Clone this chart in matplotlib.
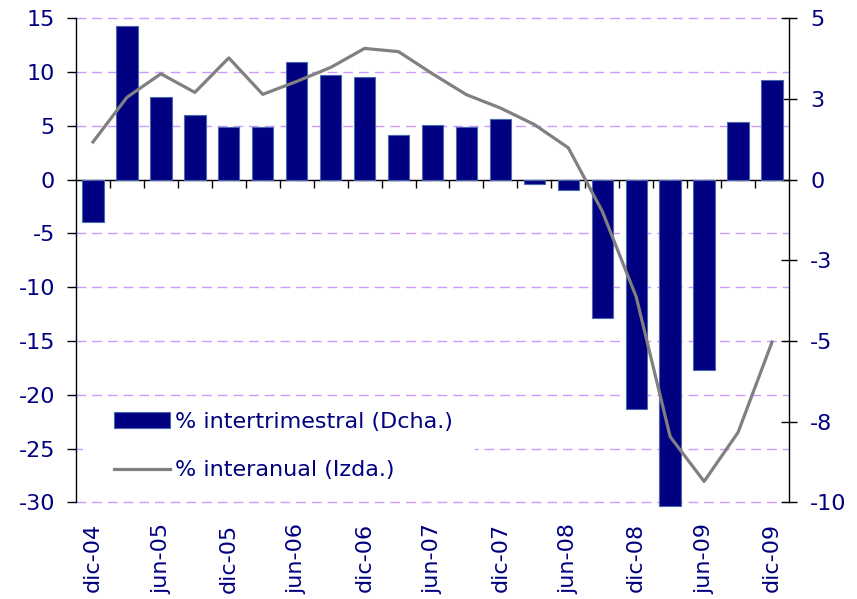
import math
import matplotlib
matplotlib.use('Agg')
import matplotlib.pyplot as plt
import matplotlib.transforms as mtransforms
from matplotlib.ticker import FuncFormatter
from matplotlib.patches import Rectangle, Patch
from matplotlib.lines import Line2D

plt.rcParams['axes.unicode_minus'] = False

# ---------------- data ----------------
categories = ['dic-04', 'mar-05', 'jun-05', 'sep-05', 'dic-05', 'mar-06', 'jun-06',
              'sep-06', 'dic-06', 'mar-07', 'jun-07', 'sep-07', 'dic-07', 'mar-08',
              'jun-08', 'sep-08', 'dic-08', 'mar-09', 'jun-09', 'sep-09', 'dic-09']
# % intertrimestral (right axis, Dcha.)
intertrimestral = [-1.31, 4.77, 2.55, 1.99, 1.63, 1.63, 3.66, 3.23, 3.17, 1.38, 1.70,
                   1.63, 1.87, -0.14, -0.33, -4.28, -7.12, -10.12, -5.89, 1.80, 3.10]
# % interanual (left axis, Izda.)
interanual = [3.5, 7.65, 9.84, 8.11, 11.32, 7.93, 9.13, 10.43, 12.2, 11.9, 9.84,
              7.9, 6.66, 5.12, 2.96, -2.94, -10.9, -23.9, -28.06, -23.5, -15.1]
left_ticks = [-30, -25, -20, -15, -10, -5, 0, 5, 10, 15]
right_ticks = [-10, -7.5, -5, -2.5, 0, 2.5, 5]
label_bar = '% intertrimestral (Dcha.)'
label_line = '% interanual (Izda.)'

# ---------------- style ----------------
navy = '#000080'
bar_edge = '#4a68b0'
line_color = '#808080'
grid_color = '#cc99ff'
fs = 16

W, H = 857, 599
fig = plt.figure(figsize=(W / 100, H / 100), dpi=100)
x0, x1, ytop, ybot = 76, 789, 18.3, 502.3
ax = fig.add_axes([x0 / W, (H - ybot) / H, (x1 - x0) / W, (ybot - ytop) / H])
ax2 = ax.twinx()

n = len(categories)
xs = list(range(n))
ax.set_xlim(-0.5, n - 0.5)
ax.set_ylim(left_ticks[0], left_ticks[-1])
ax2.set_ylim(right_ticks[0], right_ticks[-1])

# grid on left axis
ax.set_yticks(left_ticks)
ax.yaxis.grid(True, color=grid_color, linestyle=(0, (7, 4.3)), linewidth=1.0)
ax.set_axisbelow(True)
for gl in ax.get_ygridlines():
    gl.set_clip_on(False)

# bars on right axis, line on left axis scale (drawn above bars)
ax2.bar(xs, intertrimestral, width=0.63, color=navy, edgecolor=bar_edge,
        linewidth=0.8, clip_on=False, zorder=2)
ax2.plot(xs, interanual, color=line_color, lw=2.3, transform=ax.transData,
         zorder=3, solid_joinstyle='round')
ax2.set_ylim(right_ticks[0], right_ticks[-1])

# spines
for s in ['top', 'right']:
    ax.spines[s].set_visible(False)
ax.spines['bottom'].set_position(('data', 0))
for s in ['top', 'bottom', 'left']:
    ax2.spines[s].set_visible(False)
ax.spines['left'].set_linewidth(1.0)
ax.spines['bottom'].set_linewidth(1.0)
ax2.spines['right'].set_linewidth(1.0)

# x ticks at category boundaries, pointing down from the zero line
ax.set_xticks([i + 0.5 for i in range(n - 1)])
ax.tick_params(axis='x', direction='out', length=5.8, width=1.0, labelbottom=False)

# left y ticks
ax.tick_params(axis='y', direction='out', length=6.5, width=1.0, pad=8.6,
               labelsize=fs, labelcolor=navy)

# right y ticks (Excel-style rounding of labels)
def excel_round(v, pos=None):
    r = int(math.floor(abs(v) + 0.5))
    return ('-' if v < 0 and r != 0 else '') + str(r)

ax2.set_yticks(right_ticks)
ax2.yaxis.set_major_formatter(FuncFormatter(excel_round))
ax2.tick_params(axis='y', direction='inout', length=11.5, width=1.0, pad=9.4,
                labelsize=fs, labelcolor=navy)

# category labels below the plot
trans = mtransforms.blended_transform_factory(ax.transData, ax.transAxes)
for i in range(0, n, 2):
    ax.text(xs[i], -21 / (ybot - ytop), categories[i], transform=trans, rotation=90,
            ha='center', va='top', fontsize=fs, color=navy)

# white background behind legend
ax2.add_patch(Rectangle(((83 - x0) / (x1 - x0), (ybot - 487) / (ybot - ytop)),
                        (475 - 83) / (x1 - x0), (487 - 405) / (ybot - ytop),
                        transform=ax2.transAxes, facecolor='white',
                        edgecolor='none', zorder=1))

handles = [Patch(facecolor=navy, edgecolor=bar_edge, linewidth=0.8),
           Line2D([0], [0], color=line_color, lw=2.3)]
leg = ax2.legend(handles, [label_bar, label_line], loc='center left',
                 bbox_to_anchor=(114 / W, (H - 446.2) / H),
                 bbox_transform=fig.transFigure, frameon=False, borderpad=0,
                 borderaxespad=0, handlelength=2.5, handletextpad=0.25,
                 labelspacing=1.28, fontsize=fs)
for t in leg.get_texts():
    t.set_color(navy)
leg.set_zorder(5)

fig.savefig('out.png', dpi=100)
